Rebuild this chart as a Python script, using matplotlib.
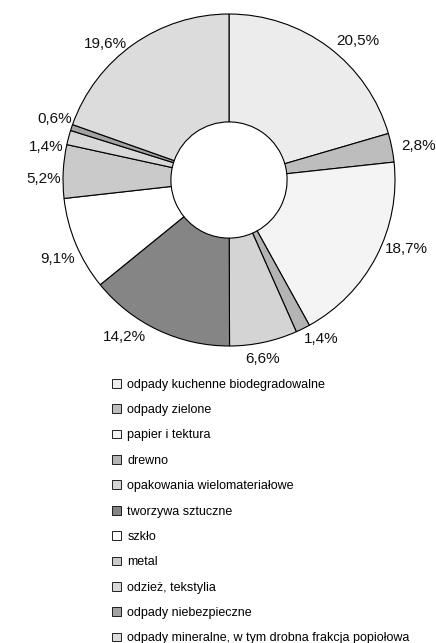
import matplotlib.pyplot as plt
from matplotlib.patches import Patch

plt.rcParams['font.family'] = ['Liberation Sans', 'DejaVu Sans']

categories = [
    'odpady kuchenne biodegradowalne',
    'odpady zielone',
    'papier i tektura',
    'drewno',
    'opakowania wielomateriałowe',
    'tworzywa sztuczne',
    'szkło',
    'metal',
    'odzież, tekstylia',
    'odpady niebezpieczne',
    'odpady mineralne, w tym drobna frakcja popiołowa',
]
shares = [20.5, 2.8, 18.7, 1.4, 6.6, 14.2, 9.1, 5.2, 1.4, 0.6, 19.6]
colors = ['#ececec', '#bdbdbd', '#f4f4f4', '#b4b4b4', '#d4d4d4', '#858585',
          '#ffffff', '#cacaca', '#d8d8d8', '#a2a2a2', '#dcdcdc']

# label nudges in pixels (right, down) so the small slices don't collide
nudges = [(2, 2), (0, 0), (0, -12), (-3, 1), (-20, 7), (-8, -2),
          (8, 11), (8, 8), (5, 12), (10, -5), (0, 8)]

fig = plt.figure(figsize=(4.36, 6.43), dpi=100)
ax = fig.add_axes([0.1445, 0.4619, 0.7615, 0.5163])

labels = [('%.1f%%' % v).replace('.', ',') for v in shares]
wedges, texts = ax.pie(shares, labels=labels, colors=colors, startangle=90,
                       counterclock=False, radius=1, labeldistance=1.06,
                       wedgeprops=dict(width=0.65, edgecolor='black', linewidth=0.8),
                       textprops=dict(fontsize=11, color='#111111'))
ax.set_xlim(-1, 1)
ax.set_ylim(-1, 1)
ax.set_aspect('equal')
ax.axis('off')

px = 2.0 / (0.7615 * 436)  # data units per pixel
for t, (dx, dy) in zip(texts, nudges):
    x, y = t.get_position()
    t.set_position((x + dx * px, y - dy * px))

handles = [Patch(facecolor=c, edgecolor='black', linewidth=0.6) for c in colors]
fig.legend(handles, categories, loc='upper left', bbox_to_anchor=(0.258, 0.411),
           frameon=False, fontsize=9, handlelength=0.7, handleheight=0.7,
           handletextpad=0.5, labelspacing=1.07, borderaxespad=0, borderpad=0)

fig.savefig('out.png', dpi=100)
